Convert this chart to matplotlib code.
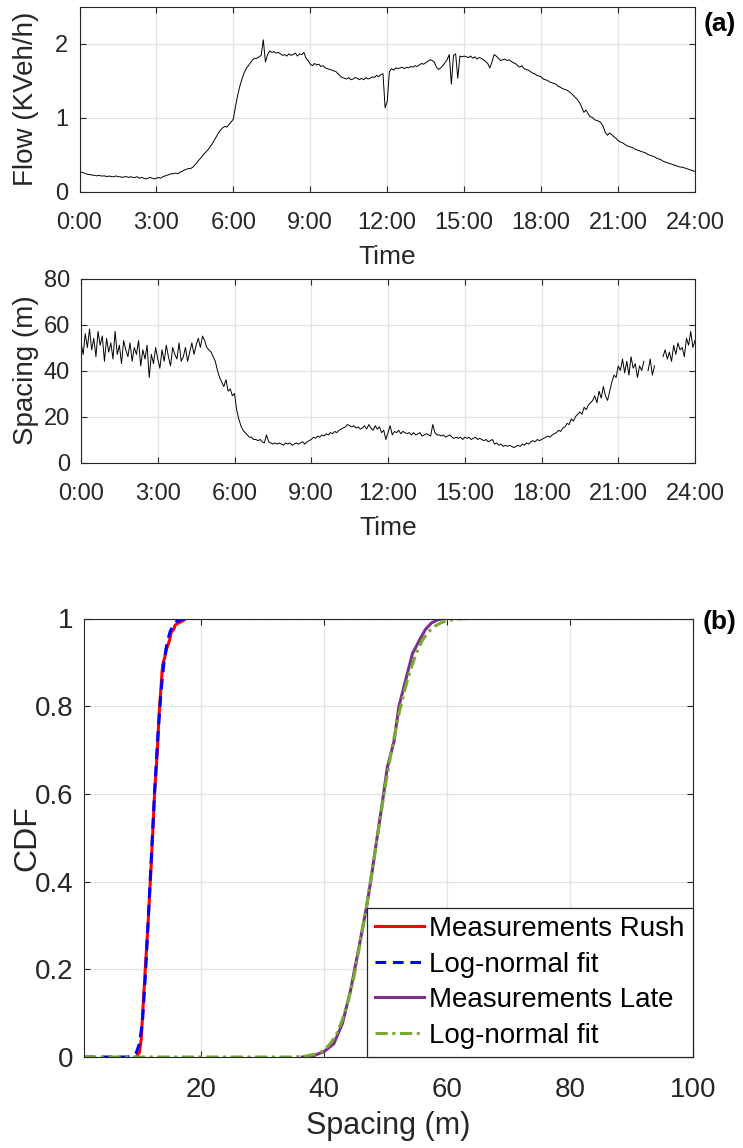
import numpy as np
import matplotlib
matplotlib.use("Agg")
import matplotlib.pyplot as plt

plt.rcParams['font.family'] = ['Liberation Sans', 'DejaVu Sans']

# ---------------- data ----------------
sample_minutes = 5
time_labels = ["0:00", "3:00", "6:00", "9:00", "12:00", "15:00", "18:00", "21:00", "24:00"]

flow_kveh = [
    0.27, 0.26, 0.25, 0.24, 0.23, 0.23, 0.22, 0.22, 0.21, 0.22, 0.21, 0.21,
    0.21, 0.20, 0.21, 0.20, 0.20, 0.21, 0.20, 0.20, 0.19, 0.20, 0.20, 0.19,
    0.20, 0.19, 0.19, 0.20, 0.18, 0.19, 0.18, 0.17, 0.18, 0.19, 0.18, 0.17,
    0.18, 0.19, 0.18, 0.20, 0.21, 0.22, 0.23, 0.24, 0.24, 0.25, 0.24, 0.26,
    0.27, 0.29, 0.30, 0.31, 0.31, 0.33, 0.36, 0.39, 0.43, 0.46, 0.50, 0.53,
    0.56, 0.60, 0.64, 0.69, 0.74, 0.79, 0.83, 0.86, 0.88, 0.87, 0.91, 0.94,
    0.98, 1.15, 1.30, 1.42, 1.52, 1.60, 1.66, 1.70, 1.74, 1.78, 1.80, 1.80,
    1.82, 1.84, 2.05, 1.75, 1.85, 1.90, 1.88, 1.89, 1.87, 1.88, 1.86, 1.84,
    1.85, 1.83, 1.86, 1.84, 1.85, 1.87, 1.83, 1.86, 1.85, 1.88, 1.80, 1.77,
    1.72, 1.70, 1.73, 1.71, 1.72, 1.69, 1.70, 1.67, 1.66, 1.65, 1.64, 1.63,
    1.62, 1.59, 1.56, 1.54, 1.53, 1.52, 1.54, 1.51, 1.52, 1.54, 1.53, 1.51,
    1.53, 1.51, 1.54, 1.52, 1.53, 1.55, 1.54, 1.57, 1.55, 1.58, 1.59, 1.13,
    1.22, 1.62, 1.66, 1.64, 1.67, 1.66, 1.67, 1.68, 1.66, 1.68, 1.67, 1.69,
    1.68, 1.70, 1.69, 1.71, 1.73, 1.72, 1.74, 1.76, 1.78, 1.77, 1.75, 1.68,
    1.65, 1.67, 1.70, 1.74, 1.78, 1.85, 1.45, 1.84, 1.86, 1.53, 1.83, 1.82,
    1.83, 1.82, 1.81, 1.83, 1.80, 1.82, 1.79, 1.81, 1.80, 1.78, 1.76, 1.73,
    1.67, 1.75, 1.85, 1.83, 1.80, 1.77, 1.78, 1.79, 1.77, 1.78, 1.76, 1.74,
    1.73, 1.70, 1.68, 1.70, 1.66, 1.65, 1.64, 1.62, 1.60, 1.59, 1.57, 1.56,
    1.55, 1.52, 1.51, 1.50, 1.48, 1.47, 1.46, 1.45, 1.42, 1.41, 1.39, 1.38,
    1.37, 1.35, 1.33, 1.30, 1.27, 1.24, 1.20, 1.14, 1.07, 1.10, 1.05, 1.01,
    1.00, 0.97, 0.96, 0.95, 0.93, 0.88, 0.80, 0.76, 0.79, 0.77, 0.74, 0.72,
    0.69, 0.67, 0.66, 0.64, 0.62, 0.61, 0.60, 0.59, 0.57, 0.56, 0.55, 0.54,
    0.53, 0.52, 0.50, 0.49, 0.48, 0.47, 0.45, 0.44, 0.43, 0.41, 0.40, 0.39,
    0.38, 0.37, 0.36, 0.35, 0.34, 0.33, 0.33, 0.32, 0.31, 0.30, 0.29, 0.28,
    0.27,
]

nan = float("nan")
spacing_m = [
    52, 47, 56, 50, 58, 49, 54, 46, 57, 51, 55, 44,
    54, 48, 52, 45, 57, 47, 51, 43, 53, 49, 46, 52,
    44, 50, 47, 53, 42, 49, 45, 51, 37, 47, 43, 50,
    45, 41, 49, 44, 51, 46, 42, 50, 47, 45, 52, 44,
    46, 50, 44, 48, 52, 47, 51, 54, 50, 55, 53, 50,
    49, 48, 46, 44, 40, 37, 35, 33, 36, 31, 32, 29,
    30, 23, 19, 16, 14, 13, 12, 11, 11, 10, 10, 9.5,
    10, 9, 8.5, 12, 9, 8.5, 8, 8.5, 8, 8.5, 8, 7.5,
    8.5, 8, 8.5, 7.5, 8, 8.5, 8, 8.5, 9, 8, 9, 9.5,
    10, 11, 10.5, 11.5, 11, 12, 11.5, 12.5, 12, 13, 12.5, 13.5,
    13, 14, 14.5, 15, 15.5, 16.5, 16, 15.5, 16, 15, 15.5, 14.5,
    15, 16, 14.5, 16.5, 15, 14, 16, 14.5, 15.5, 13, 14, 10,
    13, 16, 12, 13.5, 13, 14, 12.5, 13.5, 13, 12.5, 13, 12,
    13, 12, 12.5, 13, 11.5, 12, 12.5, 12, 11.5, 16.5, 13, 12,
    12, 11.5, 12, 11, 11.5, 12, 11, 10.5, 11, 10.5, 11, 10,
    11, 10.5, 11, 10, 10.5, 11, 10, 10.5, 10, 9.5, 10, 9,
    9.5, 10, 8, 8.5, 7.5, 8, 7, 7.5, 7, 7.5, 7, 6.5,
    7, 7.5, 7, 8, 7.5, 8.5, 8, 9, 9.5, 9, 10, 9.5,
    10, 10.5, 11, 11.5, 11, 12, 12.5, 13, 14, 13.5, 15, 15.5,
    17, 16.5, 19, 18, 20, 21, 22, 21, 24, 23, 25, 26,
    27, 29, 26, 31, 28, 33, 29, 27, 31, 35, 38, 37,
    42, 40, 45, 39, 44, 38, 46, 41, 43, 37, 42, 40,
    44, nan, 40, 45, 38, 42, nan, 41, nan, 46, 49, 45,
    48, 44, 51, 47, 52, 49, 50, 46, 54, 51, 57, 50,
    53,
]

rush_x = [9.5, 10.0, 10.3, 10.5, 10.75, 11.0, 11.4, 11.7, 12.0, 12.3, 12.5, 12.8,
          13.0, 13.2, 13.5, 13.7, 13.8, 14.1, 14.4, 14.9, 15.2, 15.6, 15.8, 16.4, 17.1, 17.4]
rush_cdf = [0.0, 0.01, 0.04, 0.09, 0.15, 0.21, 0.30, 0.38, 0.46, 0.55, 0.61, 0.67,
            0.72, 0.78, 0.84, 0.88, 0.895, 0.91, 0.93, 0.95, 0.97, 0.975, 0.985, 0.99, 0.995, 1.0]
rush_fit_x = [1, 8, 8.8, 9.5, 10, 10.5, 11, 11.5, 12, 12.5, 13, 13.5, 14, 14.5, 15, 15.5,
              16, 17, 18, 100]
rush_fit_cdf = [0.0, 0.0, 0.002, 0.01, 0.03, 0.08, 0.19, 0.33, 0.47, 0.61, 0.73, 0.83,
                0.90, 0.945, 0.97, 0.985, 0.993, 0.998, 1.0, 1.0]
late_x = [36.5, 38.3, 40.0, 41.6, 43.0, 44.3, 45.7, 46.9, 47.6, 48.5, 49.5, 50.3, 51.4,
          52.2, 53.3, 54.4, 55.7, 56.5, 57.5, 58.5, 59.5]
late_cdf = [0.0, 0.003, 0.012, 0.03, 0.076, 0.15, 0.25, 0.34, 0.40, 0.487, 0.58, 0.66, 0.72,
            0.80, 0.86, 0.92, 0.955, 0.975, 0.99, 0.997, 1.0]
late_fit_x = [1, 35, 37, 39, 40, 41, 42, 43, 44, 45, 46, 47, 48, 49, 50, 51, 52, 53, 54,
              55, 56, 57, 58, 59, 60, 62, 64, 100]
late_fit_cdf = [0.0, 0.0, 0.002, 0.008, 0.015, 0.03, 0.05, 0.085, 0.13, 0.19, 0.27, 0.35,
                0.44, 0.53, 0.62, 0.70, 0.77, 0.83, 0.88, 0.92, 0.95, 0.97, 0.982, 0.99,
                0.995, 0.999, 1.0, 1.0]

legend_labels = ["Measurements Rush", "Log-normal fit", "Measurements Late", "Log-normal fit"]

# ---------------- figure ----------------
W, H = 743, 1148
fig = plt.figure(figsize=(W / 100, H / 100), dpi=100)

def ax_rect(l, t, r, b):
    return [l / W, 1 - b / H, (r - l) / W, (b - t) / H]

txt_c = '#262626'
grid_c = '#e3e3e3'

def style(ax, fs, xpad, ypad):
    ax.grid(True, color=grid_c, linewidth=0.9)
    ax.set_axisbelow(True)
    for s in ax.spines.values():
        s.set_color(txt_c)
        s.set_linewidth(0.8)
    ax.tick_params(direction='in', top=True, right=True, length=4, width=0.8,
                   colors=txt_c, labelsize=fs, labelcolor=txt_c)
    ax.tick_params(axis='x', pad=xpad)
    ax.tick_params(axis='y', pad=ypad)

hours = np.arange(len(flow_kveh)) * sample_minutes / 60.0

# Flow panel
L1, T1, R1, B1 = 79.5, 6.5, 695, 191.5
ax1 = fig.add_axes(ax_rect(L1, T1, R1, B1))
ax1.plot(hours, flow_kveh, color='black', linewidth=0.7)
ax1.set_xlim(0, 24)
ax1.set_ylim(0, 2.5)
ax1.set_yticks([0, 1, 2])
ax1.set_xticks(np.arange(0, 25, 3))
ax1.set_xticklabels(time_labels)
style(ax1, 17, 14.5, 8)
ax1.set_xlabel("Time", fontsize=19, color=txt_c)
ax1.set_ylabel("Flow (KVeh/h)", fontsize=20, color=txt_c)
ax1.xaxis.set_label_coords(0.5, (B1 - 245) / (B1 - T1))
ax1.yaxis.set_label_coords((39 - L1) / (R1 - L1), 0.5)

# Spacing panel
L2, T2, R2, B2 = 81, 278.5, 695, 462.5
ax2 = fig.add_axes(ax_rect(L2, T2, R2, B2))
ax2.plot(hours, spacing_m, color='black', linewidth=0.7)
ax2.set_xlim(0, 24)
ax2.set_ylim(0, 80)
ax2.set_yticks([0, 20, 40, 60, 80])
ax2.set_xticks(np.arange(0, 25, 3))
ax2.set_xticklabels(time_labels)
style(ax2, 17, 15, 8)
ax2.set_xlabel("Time", fontsize=19, color=txt_c)
ax2.set_ylabel("Spacing (m)", fontsize=20, color=txt_c)
ax2.xaxis.set_label_coords(0.5, (B2 - 516) / (B2 - T2))
ax2.yaxis.set_label_coords((39 - L2) / (R2 - L2), 0.5)

# CDF panel
L3, T3, R3, B3 = 84, 618.5, 693, 1057
ax3 = fig.add_axes(ax_rect(L3, T3, R3, B3))
ax3.plot(rush_x, rush_cdf, color='#ff0000', linewidth=2.2, label=legend_labels[0])
ax3.plot(rush_fit_x, rush_fit_cdf, color='#0000ff', linewidth=2.2,
         linestyle=(0, (3.5, 2.2)), label=legend_labels[1])
ax3.plot(late_x, late_cdf, color='#7E2F8E', linewidth=2.2, label=legend_labels[2])
ax3.plot(late_fit_x, late_fit_cdf, color='#77AC30', linewidth=2.2,
         linestyle=(0, (4, 1.5, 1, 1.5)), label=legend_labels[3])
ax3.set_xlim(1, 100)
ax3.set_ylim(0, 1)
ax3.set_xticks([20, 40, 60, 80, 100])
ax3.set_yticks([0, 0.2, 0.4, 0.6, 0.8, 1])
ax3.set_yticklabels(["0", "0.2", "0.4", "0.6", "0.8", "1"])
style(ax3, 20, 14.2, 7.7)
ax3.set_xlabel("Spacing (m)", fontsize=22, color=txt_c)
ax3.set_ylabel("CDF", fontsize=23, color=txt_c)
ax3.xaxis.set_label_coords(0.5, (B3 - 1111) / (B3 - T3))
ax3.yaxis.set_label_coords((42 - L3) / (R3 - L3), 0.5)
leg = ax3.legend(loc='lower right', fontsize=20, frameon=True, fancybox=False,
                 handlelength=1.75, handletextpad=0.2, labelspacing=0.345,
                 borderpad=0.3, borderaxespad=0.0)
leg.get_frame().set_edgecolor(txt_c)
leg.get_frame().set_linewidth(0.9)
leg.get_frame().set_alpha(1)

fig.text(720 / W, 1 - 24 / H, "(a)", fontsize=19, fontweight='bold', ha='center', va='center')
fig.text(720 / W, 1 - 622 / H, "(b)", fontsize=19, fontweight='bold', ha='center', va='center')

fig.savefig("out.png", dpi=100)
